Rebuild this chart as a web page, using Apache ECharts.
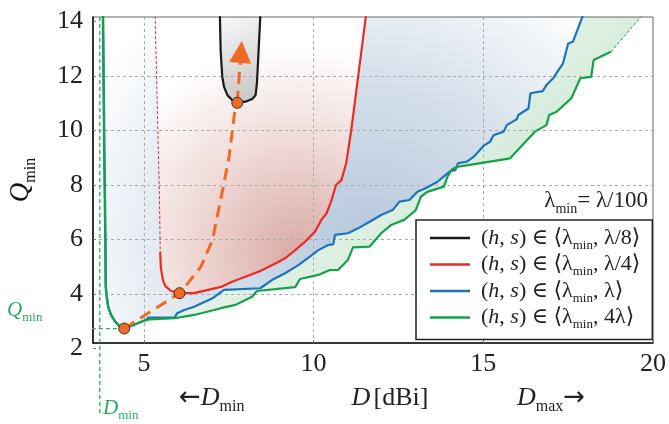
<!DOCTYPE html>
<html>
<head>
<meta charset="utf-8">
<script src="https://cdn.jsdelivr.net/npm/echarts@6/dist/echarts.min.js"></script>
<style>
  html, body { margin: 0; padding: 0; background: #fff; }
  #chart { width: 669px; height: 424px; }
</style>
</head>
<body>
<div id="chart"></div>
<script>
  // Q_min vs directivity D for different (h, s) ranges
  var blackCurve = [[7.24, 14.2], [7.26, 12.95], [7.31, 11.97], [7.36, 11.61], [7.46, 11.30], [7.60, 11.12],
    [7.75, 11.02], [7.99, 11.06], [8.19, 11.16], [8.29, 11.30], [8.33, 11.73], [8.38, 12.95], [8.43, 14.2]];

  var redDash = [[5.33, 14.2], [5.39, 11.12], [5.46, 7.45], [5.48, 5.54]];
  var redCurve = [[5.48, 5.54], [5.50, 4.95], [5.56, 4.51], [5.63, 4.29], [5.80, 4.11], [6.05, 4.03], [6.48, 4.03],
    [7.27, 4.26], [7.60, 4.45], [7.99, 4.63], [8.38, 4.82], [8.68, 5.00], [8.92, 5.15], [9.16, 5.31], [9.46, 5.61],
    [9.75, 5.92], [10.04, 6.29], [10.23, 6.72], [10.38, 6.96], [10.53, 7.45], [10.66, 8.00], [10.82, 8.18],
    [10.96, 8.80], [11.11, 10.02], [11.31, 11.96], [11.54, 14.2]];

  var blueCurve = [[3.79, 14.2], [3.83, 9.00], [3.86, 6.00], [3.87, 4.30], [3.90, 3.90], [3.95, 3.52], [4.03, 3.23],
    [4.14, 3.01], [4.26, 2.84], [4.42, 2.73], [4.73, 2.88], [5.07, 3.05], [5.12, 3.13], [5.90, 3.13], [5.98, 3.29],
    [6.19, 3.41], [6.48, 3.53], [7.02, 3.84], [7.36, 4.15], [7.41, 4.17], [8.43, 4.21], [8.77, 4.51], [9.16, 4.76],
    [9.55, 5.06], [9.89, 5.37], [10.14, 5.61], [10.43, 5.80], [10.58, 5.82], [10.63, 6.17], [11.01, 6.23],
    [11.31, 6.41], [11.65, 6.65], [11.99, 6.90], [12.33, 7.08], [12.53, 7.39], [12.82, 7.45], [13.06, 7.75],
    [13.30, 7.88], [13.65, 8.12], [13.89, 8.37], [14.04, 8.52], [14.18, 8.55], [14.25, 8.80], [14.52, 8.86],
    [14.72, 9.04], [15.01, 9.44], [15.20, 9.59], [15.30, 9.83], [15.60, 9.96], [15.69, 10.20], [15.99, 10.42],
    [16.03, 10.57], [16.33, 10.81], [16.39, 11.37], [16.75, 11.45], [16.86, 11.67], [17.06, 11.92], [17.15, 12.10],
    [17.35, 12.47], [17.50, 13.20], [17.64, 13.26], [17.79, 13.75], [17.94, 14.24]];

  var greenCurve = [[3.80, 14.2], [3.84, 9.00], [3.87, 6.00], [3.88, 4.26], [3.91, 3.89], [3.95, 3.52], [4.03, 3.23],
    [4.14, 3.01], [4.26, 2.84], [4.42, 2.73], [4.73, 2.88], [5.07, 3.05], [5.17, 3.07], [5.90, 3.11], [6.48, 3.23],
    [7.07, 3.41], [7.36, 3.51], [7.70, 3.60], [7.99, 3.78], [8.19, 3.90], [8.33, 4.11], [9.46, 4.25], [9.60, 4.55],
    [10.14, 4.70], [10.48, 4.88], [10.72, 4.88], [11.01, 5.25], [11.06, 5.31], [11.16, 5.71], [11.65, 5.74],
    [11.99, 6.23], [12.28, 6.53], [12.67, 6.72], [13.01, 7.08], [13.16, 7.57], [13.35, 7.75], [13.84, 7.94],
    [13.94, 8.30], [14.08, 8.58], [14.23, 8.67], [15.79, 8.98], [16.52, 9.96], [16.86, 10.20], [16.94, 10.57],
    [17.16, 10.69], [17.59, 11.18], [17.86, 11.92], [18.18, 11.97], [18.25, 12.59], [18.76, 12.89]];
  var greenDash = [[18.76, 12.89], [19.23, 13.58], [19.69, 14.24]];

  // trend of the minima (orange dashed arrow)
  var minPath = [[4.42, 2.73], [6.05, 4.03], [6.29, 4.39], [6.68, 5.00], [7.02, 5.98], [7.26, 7.45], [7.51, 9.04],
    [7.67, 10.63], [7.75, 11.02]];
  var arrowEnd = [7.86, 12.89];
  var minima = [[4.42, 2.73], [6.05, 4.03], [7.75, 11.02]];

  var dMin = 3.70;
  var qMin = 2.73;

  var xTicks = [5, 10, 15, 20];
  var yTicks = [2, 4, 6, 8, 10, 12, 14];

  var SERIF = "'Liberation Serif', 'DejaVu Serif', serif";
  var C_BLACK = '#1a1a1a', C_RED = '#ee2a24', C_BLUE = '#1c74bc', C_GREEN = '#17a04a',
    C_ORANGE = '#f26a21', C_LGREEN = '#2aaa5e';

  function rich(size, color) {
    var sub = Math.round(size * 0.6);
    return {
      t: {fontFamily: SERIF, fontSize: size, color: color, fill: color},
      i: {fontFamily: SERIF, fontSize: size, fontStyle: 'italic', color: color, fill: color},
      a: {fontFamily: "'DejaVu Sans', sans-serif", fontSize: size, color: color, fill: color},
      s: {fontFamily: SERIF, fontSize: sub, color: color, fill: color, padding: [Math.round(size * 0.7), 0, 0, 0]}
    };
  }

  function linear(x, y, x2, y2, stops) {
    return {type: 'linear', x: x, y: y, x2: x2, y2: y2, colorStops: stops};
  }

  function radial(x, y, r, stops) {
    return {type: 'radial', x: x, y: y, r: r, colorStops: stops};
  }

  /*区域填充*/
  function fillSeries(pts, fill) {
    return {
      type: 'custom', xAxisIndex: 0, yAxisIndex: 0, z: 0, silent: true, clip: true,
      data: [0],
      renderItem: function (params, api) {
        var p = pts.map(function (d) { return api.coord(d); });
        return {type: 'polygon', shape: {points: p}, style: {fill: fill}};
      }
    };
  }

  function lineSeries(name, data, color, width, dash, z) {
    return {
      name: name, type: 'line', data: data, xAxisIndex: 0, yAxisIndex: 0,
      symbol: 'none', showSymbol: false, z: z || 3, silent: true,
      lineStyle: {color: color, width: width, type: dash || 'solid'},
      itemStyle: {color: color}
    };
  }

  var legendText = {
    'λ/8': '{t|(}{i|h}{t|, }{i|s}{t|) ∈ ⟨λ}{s|min}{t|, λ/8⟩}',
    'λ/4': '{t|(}{i|h}{t|, }{i|s}{t|) ∈ ⟨λ}{s|min}{t|, λ/4⟩}',
    'λ': '{t|(}{i|h}{t|, }{i|s}{t|) ∈ ⟨λ}{s|min}{t|, λ⟩}',
    '4λ': '{t|(}{i|h}{t|, }{i|s}{t|) ∈ ⟨λ}{s|min}{t|, 4λ⟩}'
  };

  var myChart = echarts.init(document.getElementById('chart'));
  myChart.setOption({
    animation: false,
    grid: [
      {left: 93, right: 12, top: 17, bottom: 81, show: true, borderColor: '#666', borderWidth: 1, z: 1},
      {left: 93, right: 12, top: 21.5, bottom: 75.5}
    ],
    xAxis: [
      {
        type: 'value', gridIndex: 0, min: 3.5, max: 20, minInterval: 5, maxInterval: 5, z: 1,
        axisLine: {show: true, lineStyle: {color: '#111', width: 1.6}},
        axisTick: {show: true, inside: true, length: 3, lineStyle: {color: '#777'}},
        axisLabel: {
          fontFamily: SERIF, fontSize: 26, color: '#222', margin: 8, showMinLabel: false,
          formatter: function (v) { return xTicks.indexOf(v) >= 0 ? String(v) : ''; }
        },
        splitLine: {show: true, showMinLine: false, showMaxLine: false, lineStyle: {color: '#aaa', type: [3, 3]}}
      },
      {type: 'value', gridIndex: 1, min: 0, max: 1, show: false}
    ],
    yAxis: [
      {
        type: 'value', gridIndex: 0, min: 2.2, max: 14.17, z: 1,
        axisLine: {show: true, lineStyle: {color: '#111', width: 1.6}},
        axisTick: {show: false}, axisLabel: {show: false}, splitLine: {show: false}
      },
      {
        type: 'value', gridIndex: 1, min: 2, max: 14, interval: 2, z: 1,
        axisLine: {show: false},
        axisTick: {show: true, inside: true, length: 3, lineStyle: {color: '#777'}},
        axisLabel: {
          fontFamily: SERIF, fontSize: 26, color: '#222', margin: 10,
          formatter: function (v) { return yTicks.indexOf(v) >= 0 ? String(v) : ''; }
        },
        splitLine: {show: true, showMinLine: false, showMaxLine: false, lineStyle: {color: '#aaa', type: [3, 3]}}
      }
    ],
    legend: {
      data: ['λ/8', 'λ/4', 'λ', '4λ'],
      left: 416, top: 220, orient: 'vertical', z: 6,
      icon: 'rect', itemWidth: 40, itemHeight: 2.5, itemGap: 1.5,
      padding: [7, 12, 8, 14],
      backgroundColor: '#fff', borderColor: '#222', borderWidth: 1.5, borderRadius: 0,
      selectedMode: false,
      formatter: function (name) { return legendText[name]; },
      textStyle: {padding: [0, 0, 0, 6], rich: rich(22, '#222')}
    },
    graphic: [
      {type: 'text', x: 21, y: 180, rotation: Math.PI / 2, z: 10,
        style: {text: '{i|Q}{s|min}', rich: rich(27, '#111'), align: 'center', verticalAlign: 'middle'}},
      {type: 'text', x: 179, y: 398, z: 10,
        style: {text: '{a|←}{i|D}{s|min}', rich: rich(26, '#222'), align: 'left', verticalAlign: 'middle'}},
      {type: 'text', x: 390, y: 398, z: 10,
        style: {text: '{i|D} {t|[dBi]}', rich: rich(26, '#222'), align: 'center', verticalAlign: 'middle'}},
      {type: 'text', x: 517, y: 398, z: 10,
        style: {text: '{i|D}{s|max}{a|→}', rich: rich(26, '#222'), align: 'left', verticalAlign: 'middle'}},
      {type: 'text', x: 103, y: 408, z: 10,
        style: {text: '{i|D}{s|min}', rich: rich(21, C_LGREEN), align: 'left', verticalAlign: 'middle'}},
      {type: 'text', x: 7, y: 310, z: 10,
        style: {text: '{i|Q}{s|min}', rich: rich(21, C_LGREEN), align: 'left', verticalAlign: 'middle'}},
      {type: 'text', x: 648, y: 201, z: 10,
        style: {text: '{t|λ}{s|min}{t|= λ/100}', rich: rich(23, '#222'), align: 'right', verticalAlign: 'middle'}}
    ],
    series: [
      fillSeries(greenCurve.concat(greenDash), linear(0.2, 0, 0.7, 1,
        [{offset: 0, color: '#ffffff'}, {offset: 1, color: '#c8e6cf'}])),
      fillSeries(blueCurve, radial(0.55, 0.72, 1.0,
        [{offset: 0, color: '#b6c8dd'}, {offset: 0.5, color: '#d4dfea'}, {offset: 1, color: '#ffffff'}])),
      fillSeries(redDash.concat(redCurve), radial(0.68, 0.86, 1.0,
        [{offset: 0, color: '#d9aaa5'}, {offset: 0.55, color: '#f0dcd9'}, {offset: 1, color: '#ffffff'}])),
      fillSeries(blackCurve, linear(0, 0, 1, 1,
        [{offset: 0, color: '#f8f8f8'}, {offset: 1, color: '#c4c4c4'}])),

      lineSeries('λ', blueCurve, C_BLUE, 2.2, 'solid', 3),
      lineSeries('4λ', greenCurve, C_GREEN, 2.2, 'solid', 4),
      lineSeries('', greenDash, C_GREEN, 1, [3, 2], 4),
      lineSeries('λ/4', redCurve, C_RED, 2.2, 'solid', 4),
      lineSeries('', redDash, C_RED, 1, [3, 2], 4),
      lineSeries('λ/8', blackCurve, C_BLACK, 2.2, 'solid', 4),

      /*D_min、Q_min 辅助线*/
      {
        type: 'line', clip: false, symbol: 'none', silent: true, z: 4,
        data: [[dMin, 14.17], [dMin, -0.45]],
        lineStyle: {color: C_LGREEN, width: 1.3, type: [4, 3]}
      },
      {
        type: 'line', clip: false, symbol: 'none', silent: true, z: 4,
        data: [[0.99, qMin], [minima[0][0], qMin]],
        lineStyle: {color: C_LGREEN, width: 1.3, type: [4, 3]}
      },

      lineSeries('', minPath, C_ORANGE, 3, [12, 7], 5),
      {
        type: 'lines', coordinateSystem: 'cartesian2d', xAxisIndex: 0, yAxisIndex: 0, z: 5, silent: true,
        symbol: ['none', 'triangle'], symbolSize: [0, 22],
        lineStyle: {color: C_ORANGE, width: 3, type: [12, 7], opacity: 1},
        itemStyle: {color: C_ORANGE},
        data: [{coords: [minima[2], arrowEnd]}]
      },
      {
        type: 'scatter', data: minima, z: 6, silent: true, symbolSize: 11,
        itemStyle: {color: C_ORANGE, borderColor: '#333', borderWidth: 1, opacity: 1}
      }
    ]
  });
  window.onresize = myChart.resize;
</script>
</body>
</html>
